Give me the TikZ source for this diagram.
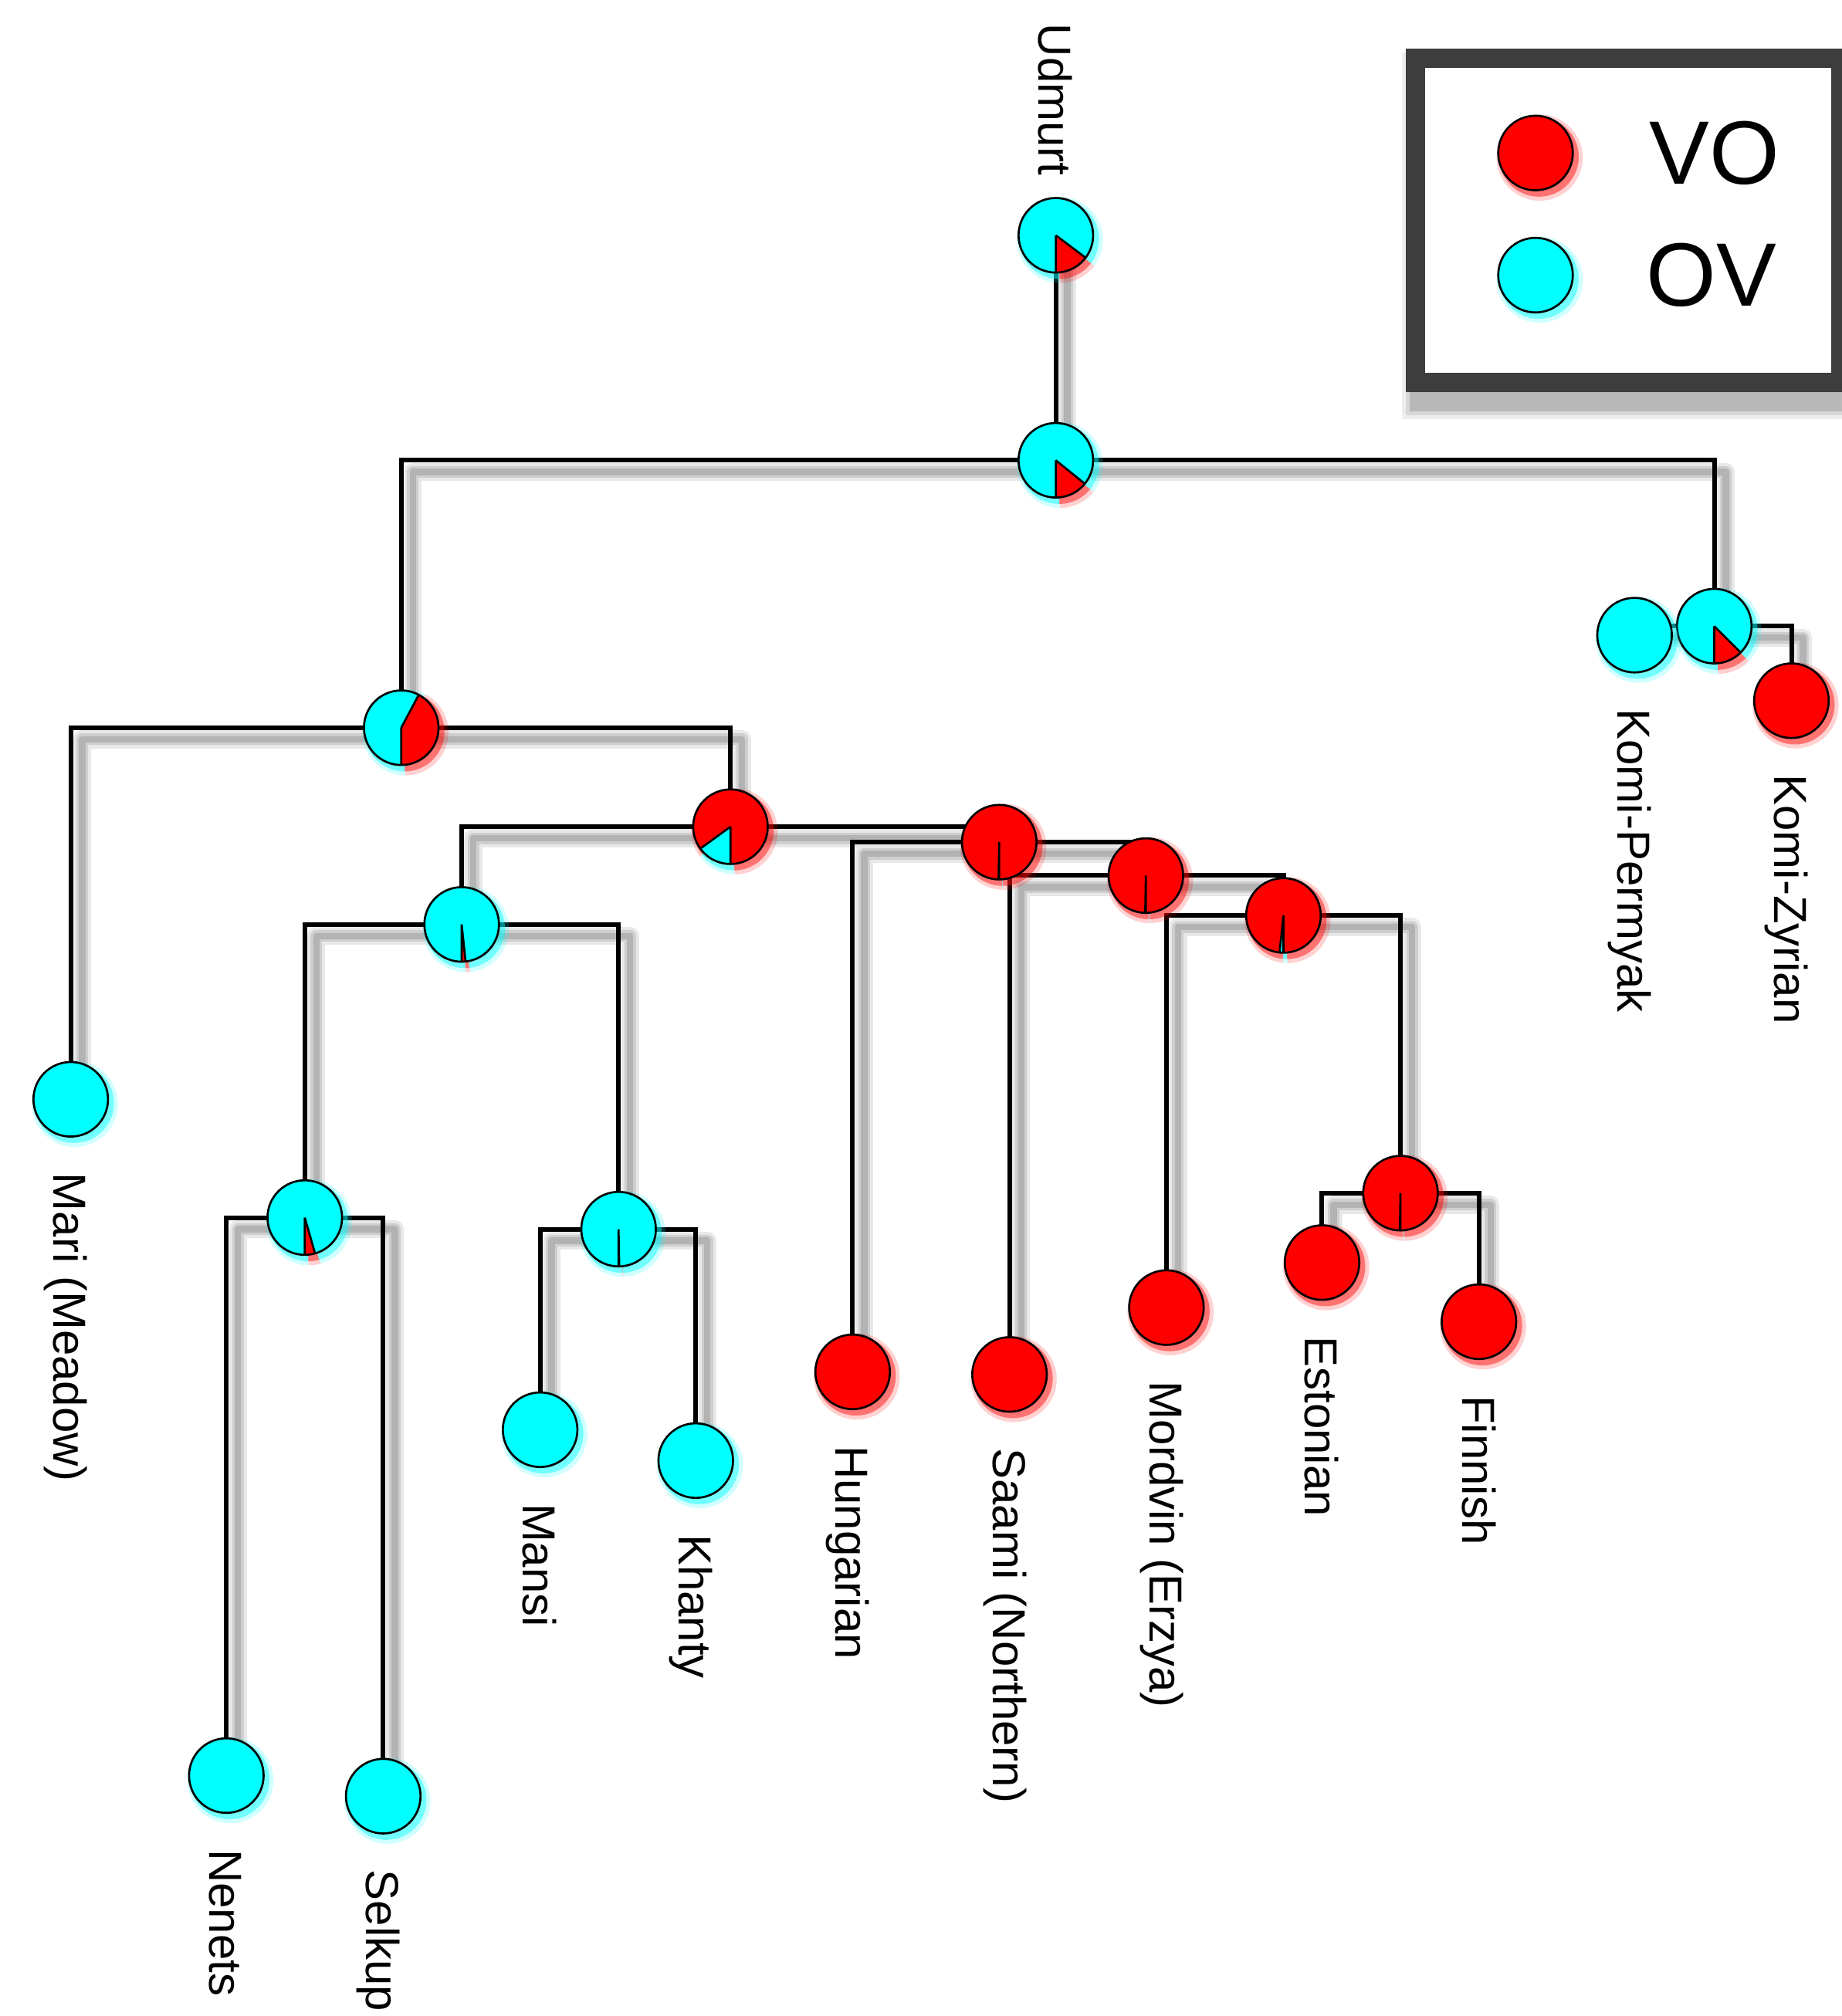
\documentclass[tikz,border=0pt]{standalone}
\usepackage{fontspec}
\setmainfont{Liberation Sans}
\usetikzlibrary{calc}
\definecolor{vo}{RGB}{255,0,0}
\definecolor{ov}{RGB}{0,255,255}
\definecolor{legframe}{RGB}{61,61,61}
\tikzset{
  conn/.style={line width=1.8pt, draw=black, line join=miter},
  rim/.style={line width=0.8pt, draw=black},
  taxon/.style={font=\fontsize{18pt}{20pt}\selectfont, rotate=-90,
    anchor=base west, inner sep=0pt},
  legtext/.style={font=\fontsize{35pt}{38pt}\selectfont, anchor=west, inner sep=0pt},
}
% all connectors of the tree, parent -| child
\newcommand\treepath{foreach \p/\c in {root/L,root/K,K/perm,K/zyr,L/mari,L/A,
  A/F,A/B,B/hun,B/C,C/saa,C/D,D/mor,D/E,E/est,E/fin,F/G,F/H,G/nen,G/sel,
  H/man,H/kha}{(\p) -| (\c)} (udm) -- (root)}
% red/cyan wedges of a pie: centre, end angle of red part, radius, opacity
\newcommand\ugwedges[4]{%
  \fill[vo,opacity=#4] (#1) -- ++(-90:#3) arc[start angle=-90,end angle=#2,radius=#3] -- cycle;
  \fill[ov,opacity=#4] (#1) -- ++(#2:#3) arc[start angle=#2,end angle=270,radius=#3] -- cycle;}
% pie with coloured glow
\newcommand\ugpie[2]{%
  \ugwedges{[xshift=1.6pt,yshift=-1.8pt]#1}{#2}{33.5}{0.18}%
  \ugwedges{[xshift=1.3pt,yshift=-1.5pt]#1}{#2}{31}{0.45}%
  \ugwedges{#1}{#2}{29}{1}%
  \draw[rim] (#1) -- ++(-90:29) (#1) -- ++(#2:29) (#1) circle[radius=29];}
% single-colour tip
\newcommand\ugleaf[2]{%
  \fill[#2,opacity=0.18] ([xshift=1.6pt,yshift=-1.8pt]#1) circle[radius=33.5];
  \fill[#2,opacity=0.45] ([xshift=1.3pt,yshift=-1.5pt]#1) circle[radius=31];
  \filldraw[rim, fill=#2] (#1) circle[radius=29];}
\newcommand\taxlabel[2]{\node[taxon] (#1-lab) at ($(#1)+(-13,-57)$) {#2};}

\begin{document}
\begin{tikzpicture}[x=0.5pt,y=0.5pt]
\useasboundingbox (0,0) rectangle (1432,-1568);
\fill[white] (0,0) rectangle (1432,-1568);

% ---- node positions
\coordinate (udm)  at (821,-183);
\coordinate (root) at (821,-358);
\coordinate (K)    at (1333,-487);
\coordinate (perm) at (1271,-494);
\coordinate (zyr)  at (1393,-545);
\coordinate (L)    at (312,-566);
\coordinate (mari) at (55,-855);
\coordinate (A)    at (568,-643);
\coordinate (F)    at (359,-719);
\coordinate (G)    at (237,-947);
\coordinate (H)    at (481,-956);
\coordinate (nen)  at (176,-1381);
\coordinate (sel)  at (298,-1397);
\coordinate (man)  at (420,-1112);
\coordinate (kha)  at (541,-1136);
\coordinate (B)    at (777,-655);
\coordinate (hun)  at (663,-1067);
\coordinate (C)    at (891,-681);
\coordinate (saa)  at (785,-1069);
\coordinate (D)    at (998,-712);
\coordinate (mor)  at (907,-1017);
\coordinate (E)    at (1089,-928);
\coordinate (est)  at (1028,-982);
\coordinate (fin)  at (1150,-1028);

% ---- legend
\begin{scope}[transform canvas={shift={(3pt,-6pt)}}]
  \foreach \g/\o in {9/0.07,6/0.09,3/0.14}
    \fill[black,opacity=\o] (1093-\g,-38+\g) rectangle (1439+\g,-305-\g);
\end{scope}
\fill[legframe] (1093,-38) rectangle (1439,-305);
\fill[white] (1108,-53) rectangle (1424,-290);
\coordinate (legvo) at (1194,-119);
\coordinate (legov) at (1194,-214);
\ugleaf{legvo}{vo}
\ugleaf{legov}{ov}
\node[legtext] (legvo-t) at (1282,-119) {VO};
\node[legtext] (legov-t) at (1280,-214) {OV};

% ---- connector shadows
\begin{scope}[transform canvas={shift={(4.5pt,-4.5pt)}}]
  \draw[conn, line width=7pt, opacity=0.09, line join=round] \treepath;
  \draw[conn, line width=4.5pt, opacity=0.11, line join=round] \treepath;
  \draw[conn, line width=2.5pt, opacity=0.13, line join=round] \treepath;
\end{scope}
% ---- connectors
\draw[conn] \treepath;

% ---- ancestral state pies
\ugpie{udm}{-37}
\ugpie{root}{-39}
\ugpie{K}{-45}
\ugpie{L}{62}
\ugpie{A}{216}
\ugpie{F}{-84}
\ugpie{G}{-74}
\ugpie{H}{-89}
\ugpie{B}{269}
\ugpie{C}{269}
\ugpie{D}{264}
\ugpie{E}{269}

% ---- tips
\ugleaf{perm}{ov}
\ugleaf{zyr}{vo}
\ugleaf{mari}{ov}
\ugleaf{nen}{ov}
\ugleaf{sel}{ov}
\ugleaf{man}{ov}
\ugleaf{kha}{ov}
\ugleaf{hun}{vo}
\ugleaf{saa}{vo}
\ugleaf{mor}{vo}
\ugleaf{est}{vo}
\ugleaf{fin}{vo}

% ---- tip labels
\node[taxon, anchor=base east] (udm-lab) at ($(udm)+(-13,46)$) {Udmurt};
\taxlabel{perm}{Komi-Permyak}
\taxlabel{zyr}{Komi-Zyrian}
\taxlabel{mari}{Mari (Meadow)}
\taxlabel{nen}{Nenets}
\taxlabel{sel}{Selkup}
\taxlabel{man}{Mansi}
\taxlabel{kha}{Khanty}
\taxlabel{hun}{Hungarian}
\taxlabel{saa}{Saami (Northern)}
\taxlabel{mor}{Mordvin (Erzya)}
\taxlabel{est}{Estonian}
\taxlabel{fin}{Finnish}
\end{tikzpicture}
\end{document}
